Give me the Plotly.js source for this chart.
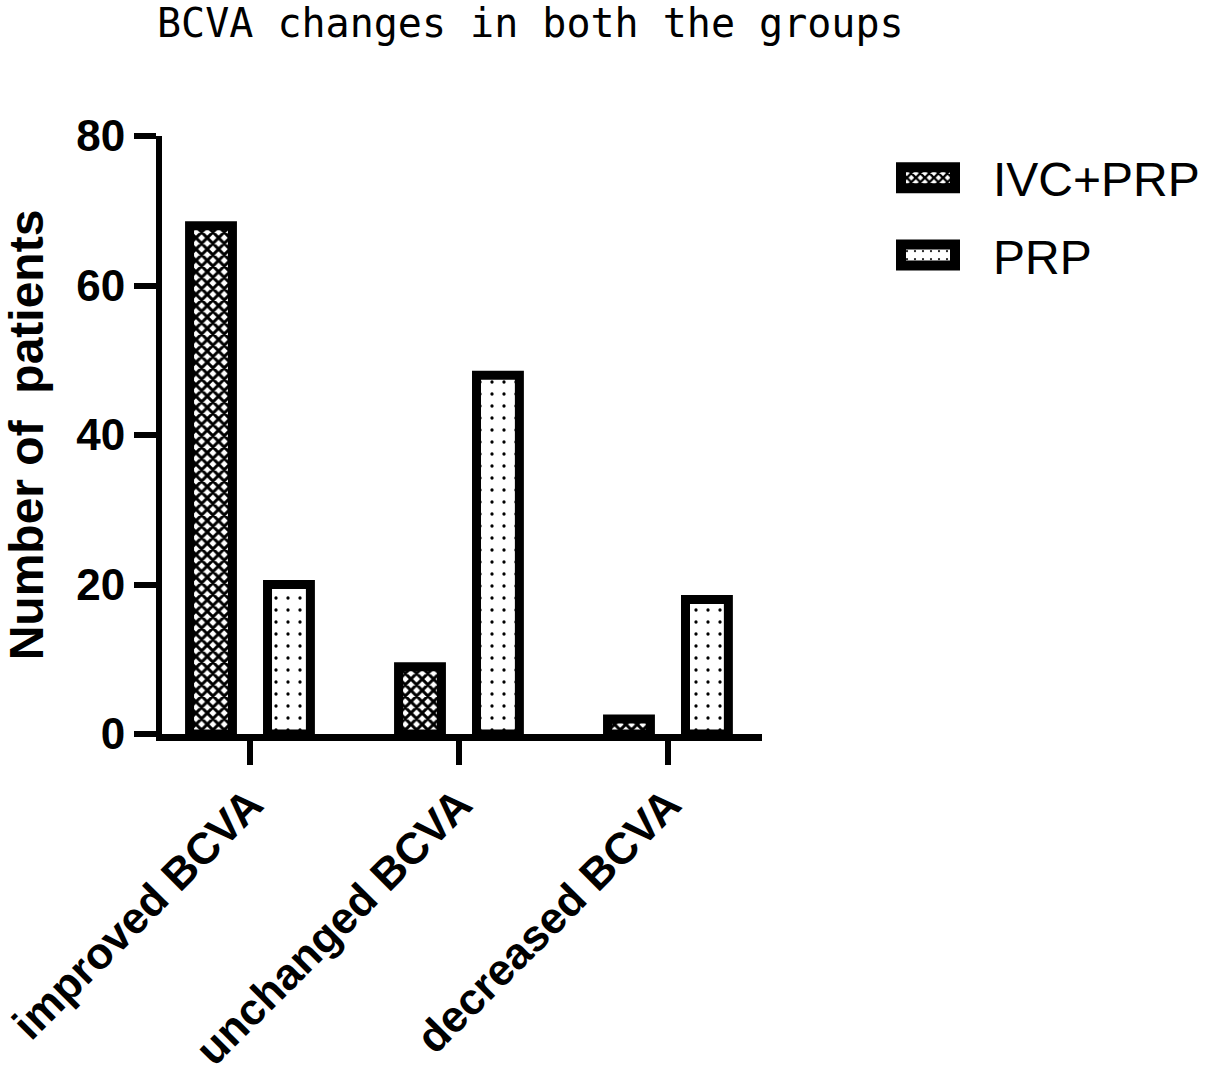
<!DOCTYPE html>
<html>
<head>
<meta charset="utf-8">
<script src="https://cdn.plot.ly/plotly-3.0.1.min.js"></script>
<style>
  html, body { margin: 0; padding: 0; background: #fff; }
  #chart { width: 1205px; height: 1070px; }
</style>
</head>
<body>
<div id="chart"></div>
<script>
// values
const categories = ['improved BCVA', 'unchanged BCVA', 'decreased BCVA'];
const ivcPrp = [68, 9, 2];
const prpOnly = [20, 48, 18];
const yTicks = [0, 20, 40, 60, 80];

const tickFont = { family: 'Liberation Sans, Arial, sans-serif', size: 44, color: '#000', weight: 'bold' };

const traces = [
    {
        x: categories,
        y: ivcPrp,
        type: 'bar',
        name: 'IVC+PRP',
        legendgroup: 'ivc',
        marker: {
            color: '#fff',
            line: { color: '#000', width: 9 },
            pattern: { shape: 'x', size: 8, solidity: 0.6, fgcolor: '#000', bgcolor: '#fff', fillmode: 'replace' },
        },
    },
    {
        x: categories,
        y: prpOnly,
        type: 'bar',
        name: 'PRP',
        legendgroup: 'prp',
        marker: {
            color: '#fff',
            line: { color: '#000', width: 9 },
            pattern: { shape: '.', size: 12, solidity: 0.06, fgcolor: '#000', bgcolor: '#fff', fillmode: 'replace' },
        },
    },
];

const layout = {
    width: 1205,
    height: 1070,
    title: {
        text: 'BCVA changes in both the groups',
        font: { family: 'DejaVu Sans Mono, monospace', size: 40, color: '#000' },
        xref: 'container', yref: 'container',
        x: 157 / 1205, xanchor: 'left',
        y: 1 - 23 / 1070, yanchor: 'middle',
    },
    barmode: 'group',
    bargap: 0.254,
    bargroupgap: 0.45,
    xaxis: {
        type: 'category',
        range: [-0.421, 2.45],
        showline: true, linecolor: '#000', linewidth: 7,
        ticks: 'outside', ticklen: 24, tickwidth: 6, tickcolor: '#000',
        tickangle: -45,
        ticklabelstandoff: -4,
        tickfont: tickFont,
        showgrid: false, zeroline: false,
        fixedrange: true,
    },
    yaxis: {
        range: [0, 80],
        tickvals: yTicks,
        showline: true, linecolor: '#000', linewidth: 6,
        ticks: 'outside', ticklen: 22, tickwidth: 6, tickcolor: '#000',
        tickfont: tickFont,
        showgrid: false, zeroline: false,
        title: {
            text: 'Number of \u00a0patients',
            font: { family: 'Liberation Sans, Arial, sans-serif', size: 48, color: '#000', weight: 'bold' },
            standoff: 20,
        },
        fixedrange: true,
    },
    legend: {
        xref: 'container', yref: 'container',
        x: 893 / 1205, xanchor: 'left',
        y: 1 - 140 / 1070, yanchor: 'top',
        font: { family: 'Liberation Sans, Arial, sans-serif', size: 48, color: '#000' },
        itemwidth: 90,
        traceorder: 'grouped',
        tracegroupgap: 12,
        bgcolor: 'rgba(0,0,0,0)',
    },
    showlegend: true,
    plot_bgcolor: '#fff',
    paper_bgcolor: '#fff',
    margin: { t: 136, r: 443, b: 336, l: 162 },
};

Plotly.newPlot('chart', traces, layout, { displayModeBar: false, staticPlot: true }).then(gd => {
    // widen the legend swatches to the long boxes of the original
    gd.querySelectorAll('.legend .legendpoints path').forEach(p => {
        p.setAttribute('d', 'M12,10.5H-42V-10.5H12Z');
        p.style.strokeWidth = '10px';
    });
});
</script>
</body>
</html>
